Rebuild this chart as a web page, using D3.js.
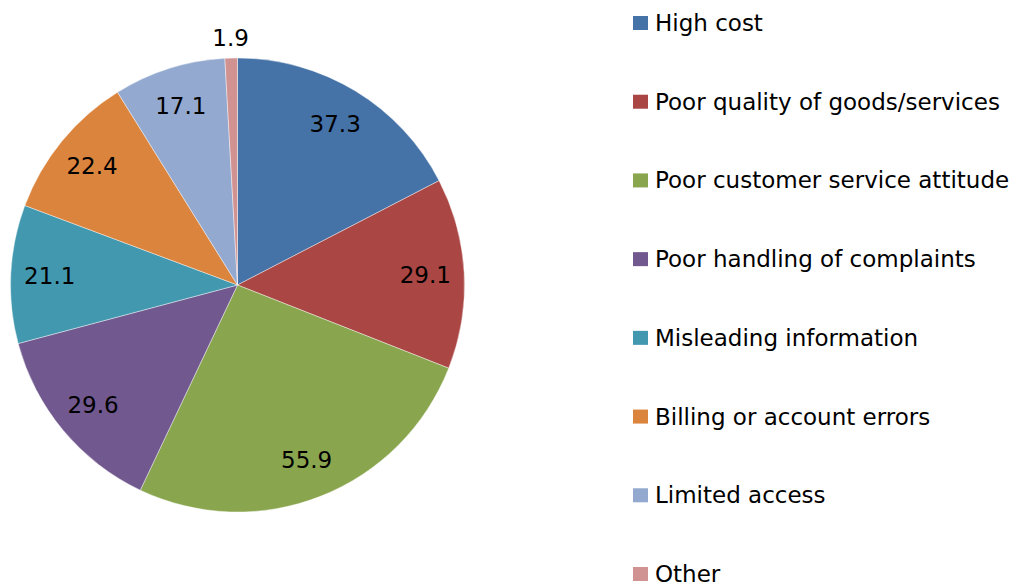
<!DOCTYPE html>
<html><head><meta charset="utf-8">
<script src="https://cdn.jsdelivr.net/npm/d3@7"></script>
<style>html,body{margin:0;padding:0;background:#fff;}</style>
</head><body>
<svg id="c" width="1019" height="586"></svg>
<script>
const categories = ["High cost","Poor quality of goods/services","Poor customer service attitude","Poor handling of complaints","Misleading information","Billing or account errors","Limited access","Other"];
const values = [37.3,29.1,55.9,29.6,21.1,22.4,17.1,1.9];
const colors = ["#4572A7","#AA4643","#89A54E","#71588F","#4198AF","#DB843D","#93A9CF","#D19392"];

const svg = d3.select("#c");
const font = "'DejaVu Sans',sans-serif";
const cx = 237.5, cy = 285, R = 227;
const g = svg.append("g").attr("transform", `translate(${cx},${cy})`);
const pie = d3.pie().sort(null).value(d => d)(values);
const arc = d3.arc().innerRadius(0).outerRadius(R);
g.selectAll("path").data(pie).join("path")
  .attr("d", arc).attr("fill", (d,i) => colors[i])
  .attr("stroke", "#fff").attr("stroke-opacity", 0.6).attr("stroke-width", 0.7);
const labelArc = d3.arc().innerRadius(188).outerRadius(188);
const outArc = d3.arc().innerRadius(247).outerRadius(247);
g.selectAll("text").data(pie).join("text")
  .attr("transform", d => `translate(${(d.endAngle - d.startAngle) < 0.15 ? outArc.centroid(d) : labelArc.centroid(d)})`)
  .attr("text-anchor", "middle").attr("dominant-baseline", "central")
  .attr("font-family", font).attr("font-size", 23).attr("fill", "#000")
  .text(d => d.data.toFixed(1));

const ly = d3.scalePoint().domain(categories).range([23, 574]);
const leg = svg.append("g");
const rows = leg.selectAll("g").data(categories).join("g")
  .attr("transform", d => `translate(633,${ly(d)})`);
rows.append("rect").attr("x", 0).attr("y", -7).attr("width", 15).attr("height", 14)
  .attr("fill", (d,i) => colors[i]);
rows.append("text").attr("x", 22).attr("y", 0).attr("dominant-baseline", "central")
  .attr("font-family", font).attr("font-size", 23).attr("fill", "#000").text(d => d);
</script>
</body></html>
